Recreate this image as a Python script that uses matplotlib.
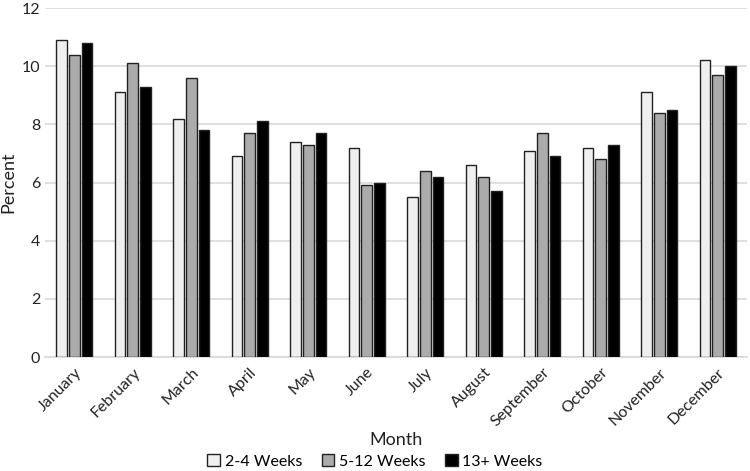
import matplotlib.pyplot as plt
import numpy as np

plt.rcParams['font.family'] = ['Lato', 'DejaVu Sans']

months = ["January", "February", "March", "April", "May", "June", "July",
          "August", "September", "October", "November", "December"]
weeks_2_4 = [10.9, 9.1, 8.2, 6.9, 7.4, 7.2, 5.5, 6.6, 7.1, 7.2, 9.1, 10.2]
weeks_5_12 = [10.4, 10.1, 9.6, 7.7, 7.3, 5.9, 6.4, 6.2, 7.7, 6.8, 8.4, 9.7]
weeks_13 = [10.8, 9.3, 7.8, 8.1, 7.7, 6.0, 6.2, 5.7, 6.9, 7.3, 8.5, 10.0]

series = [("2-4 Weeks", weeks_2_4, "#efefef"),
          ("5-12 Weeks", weeks_5_12, "#ababab"),
          ("13+ Weeks", weeks_13, "#000000")]

fig = plt.figure(figsize=(7.5, 4.71), dpi=100)
ax = fig.add_axes([0.06, 0.242, 0.936, 0.741])

x = np.arange(len(months))
w = 0.18
step = 0.22
for i, (name, vals, col) in enumerate(series):
    ax.bar(x + (i - 1) * step, vals, width=w, color=col,
           edgecolor="#222222", linewidth=1.0, label=name, zorder=3)

ax.set_xlim(-0.5, 11.5)
ax.set_ylim(0, 12)
ax.set_yticks(range(0, 13, 2))
ax.yaxis.grid(True, color="#d9d9d9", linewidth=1.2, zorder=0)
ax.set_xticks(x)
ax.set_xticklabels(months, rotation=45, ha="right", rotation_mode="anchor")
ax.tick_params(axis="both", length=0, labelsize=11.5, colors="#222222")
ax.tick_params(axis="x", pad=6)
for s in ["top", "right", "left"]:
    ax.spines[s].set_visible(False)
ax.spines["bottom"].set_color("#d9d9d9")
ax.spines["bottom"].set_linewidth(1.2)

ax.set_ylabel("Percent", fontsize=13, color="#222222")
ax.set_xlabel("Month", fontsize=13, color="#222222", labelpad=2)

fig.legend(*ax.get_legend_handles_labels(), loc="center",
           bbox_to_anchor=(0.5, 0.02), ncol=3, frameon=False, fontsize=11.5,
           handlelength=0.8, handleheight=0.8, handletextpad=0.3,
           columnspacing=1.2, borderpad=0.1)

fig.savefig("out.png", dpi=100)
